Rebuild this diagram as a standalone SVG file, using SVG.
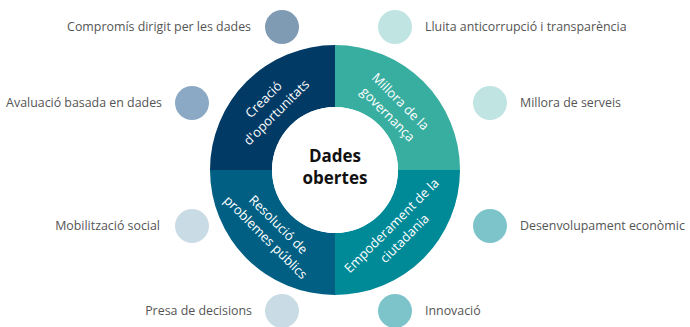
<svg xmlns="http://www.w3.org/2000/svg" width="690" height="327" viewBox="0 0 690 327">
<style>
.lbl{font-family:"Open Sans","Liberation Sans",sans-serif;font-size:12.4px;fill:#555555}
.q{font-family:"Open Sans","Liberation Sans",sans-serif;font-size:13px;fill:#ffffff;text-anchor:middle}
.c{font-family:"Open Sans","Liberation Sans",sans-serif;font-size:17px;font-weight:bold;fill:#111111;text-anchor:middle}
.r{text-anchor:end}
</style>
<rect width="690" height="327" fill="#ffffff"/>
<g id="ring">
<g id="q-creacio">
<path d="M 210 170 A 125 125 0 0 1 335 45 L 335 107 A 63 63 0 0 0 272 170 Z" fill="#023a66"/>
<g transform="translate(270,106) rotate(-45)"><text class="q"><tspan x="0" y="-4.5">Creació</tspan><tspan x="0" y="13.5">d'oportunitats</tspan></text></g>
</g>
<g id="q-millora">
<path d="M 335 45 A 125 125 0 0 1 460 170 L 398 170 A 63 63 0 0 0 335 107 Z" fill="#37ae9f"/>
<g transform="translate(394,108) rotate(45)"><text class="q"><tspan x="0" y="-4.5">Millora de la</tspan><tspan x="0" y="13.5">governança</tspan></text></g>
</g>
<g id="q-empoderament">
<path d="M 460 170 A 125 125 0 0 1 335 295 L 335 233 A 63 63 0 0 0 398 170 Z" fill="#008997"/>
<g transform="translate(398,232) rotate(-45)"><text class="q"><tspan x="0" y="-4.5">Empoderament de la</tspan><tspan x="0" y="13.5">ciutadania</tspan></text></g>
</g>
<g id="q-resolucio">
<path d="M 335 295 A 125 125 0 0 1 210 170 L 272 170 A 63 63 0 0 0 335 233 Z" fill="#005f83"/>
<g transform="translate(272,231) rotate(45)"><text class="q"><tspan x="0" y="-4.5">Resolució de</tspan><tspan x="0" y="13.5">problemes públics</tspan></text></g>
</g>
</g>
<g id="center">
<circle cx="335" cy="170" r="63" fill="#ffffff"/>
<text class="c"><tspan x="335" y="162">Dades</tspan><tspan x="335" y="184">obertes</tspan></text>
</g>
<g id="connectors"></g>
<g id="n-compromis"><circle cx="282" cy="27" r="17" fill="#7f9bb4"/><text class="lbl r" x="251" y="31">Compromís dirigit per les dades</text></g>
<g id="n-avaluacio"><circle cx="192" cy="103" r="17" fill="#8ba9c5"/><text class="lbl r" x="162" y="107">Avaluació basada en dades</text></g>
<g id="n-mobilitzacio"><circle cx="192" cy="226" r="17" fill="#c9dce5"/><text class="lbl r" x="160" y="230">Mobilització social</text></g>
<g id="n-presa"><circle cx="282" cy="311" r="17" fill="#c9dce5"/><text class="lbl r" x="252" y="315">Presa de decisions</text></g>
<g id="n-lluita"><circle cx="395" cy="27" r="17" fill="#bfe4e2"/><text class="lbl" x="425" y="31">Lluita anticorrupció i transparència</text></g>
<g id="n-serveis"><circle cx="490" cy="103" r="17" fill="#bfe4e2"/><text class="lbl" x="520" y="107">Millora de serveis</text></g>
<g id="n-desenvolupament"><circle cx="490" cy="226" r="17" fill="#7dc4ca"/><text class="lbl" x="520" y="230">Desenvolupament econòmic</text></g>
<g id="n-innovacio"><circle cx="395" cy="311" r="17" fill="#7dc4ca"/><text class="lbl" x="425" y="315">Innovació</text></g>
</svg>
